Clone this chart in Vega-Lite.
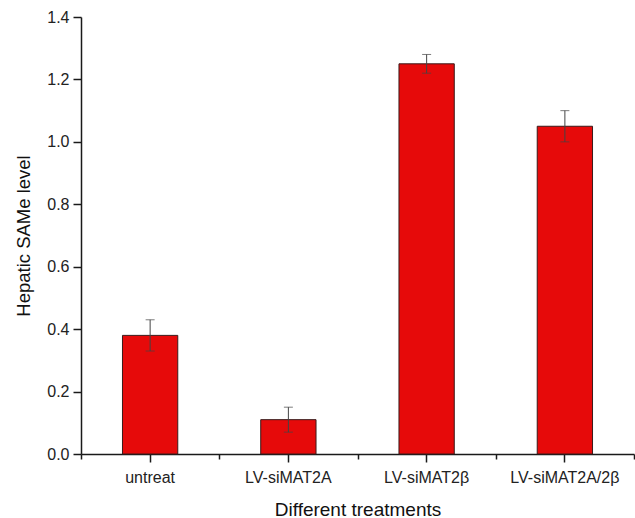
{
  "$schema": "https://vega.github.io/schema/vega-lite/v6.json",
  "autosize": "none",
  "width": 553,
  "height": 437,
  "padding": {"left": 81, "top": 17, "right": 1, "bottom": 64},
  "background": "white",
  "config": {
    "view": {"stroke": null},
    "font": "Liberation Sans",
    "axis": {"domainColor": "#1a1a1a", "domainWidth": 1.5, "tickColor": "#1a1a1a", "tickWidth": 1.5, "labelColor": "#222", "titleColor": "#111", "labelFont": "Liberation Sans", "titleFont": "Liberation Sans", "titleFontWeight": "normal", "grid": false}
  },
  "data": {
    "values": [
      {"treatment": "untreat", "level": 0.38, "lo": 0.33, "hi": 0.43},
      {"treatment": "LV-siMAT2A", "level": 0.11, "lo": 0.07, "hi": 0.15},
      {"treatment": "LV-siMAT2β", "level": 1.25, "lo": 1.22, "hi": 1.28},
      {"treatment": "LV-siMAT2A/2β", "level": 1.05, "lo": 1.0, "hi": 1.1}
    ]
  },
  "resolve": {"axis": {"x": "independent"}},
  "layer": [
    {
      "mark": {"type": "bar", "color": "#e60a0a", "stroke": "#3a1a1a", "strokeWidth": 1, "width": {"band": 0.4}},
      "encoding": {
        "x": {
          "field": "treatment", "type": "nominal", "sort": null,
          "scale": {"paddingInner": 0, "paddingOuter": 0},
          "axis": {"orient": "bottom", "title": "Different treatments", "titleFontSize": 19, "titlePadding": 15, "labelFontSize": 16, "labelAngle": 0, "tickSize": 8, "labelPadding": 7}
        },
        "y": {
          "field": "level", "type": "quantitative",
          "scale": {"domain": [0, 1.4], "nice": false},
          "axis": {
            "title": "Hepatic SAMe level", "titleFontSize": 18.5, "titlePadding": 13,
            "labelFontSize": 16, "labelPadding": 4,
            "values": [0, 0.1, 0.2, 0.3, 0.4, 0.5, 0.6, 0.7, 0.8, 0.9, 1.0, 1.1, 1.2, 1.3, 1.4],
            "labelExpr": "round(datum.value*10)%2==0 ? format(datum.value, '.1f') : ''",
            "tickSize": {"condition": {"test": "round(datum.value*10)%2==0", "value": 8}, "value": 5}
          }
        }
      }
    },
    {
      "mark": {"type": "rule", "color": "#444", "strokeWidth": 1},
      "encoding": {
        "x": {"field": "treatment", "type": "nominal", "sort": null, "axis": {"orient": "bottom", "labels": false, "domain": false, "title": null, "tickBand": "extent", "tickSize": 5}},
        "y": {"field": "lo", "type": "quantitative"},
        "y2": {"field": "hi"}
      }
    },
    {
      "mark": {"type": "tick", "color": "#444", "thickness": 1, "size": 9},
      "encoding": {
        "x": {"field": "treatment", "type": "nominal", "sort": null, "axis": null},
        "y": {"field": "lo", "type": "quantitative"}
      }
    },
    {
      "mark": {"type": "tick", "color": "#444", "thickness": 1, "size": 9},
      "encoding": {
        "x": {"field": "treatment", "type": "nominal", "sort": null, "axis": null},
        "y": {"field": "hi", "type": "quantitative"}
      }
    }
  ]
}
